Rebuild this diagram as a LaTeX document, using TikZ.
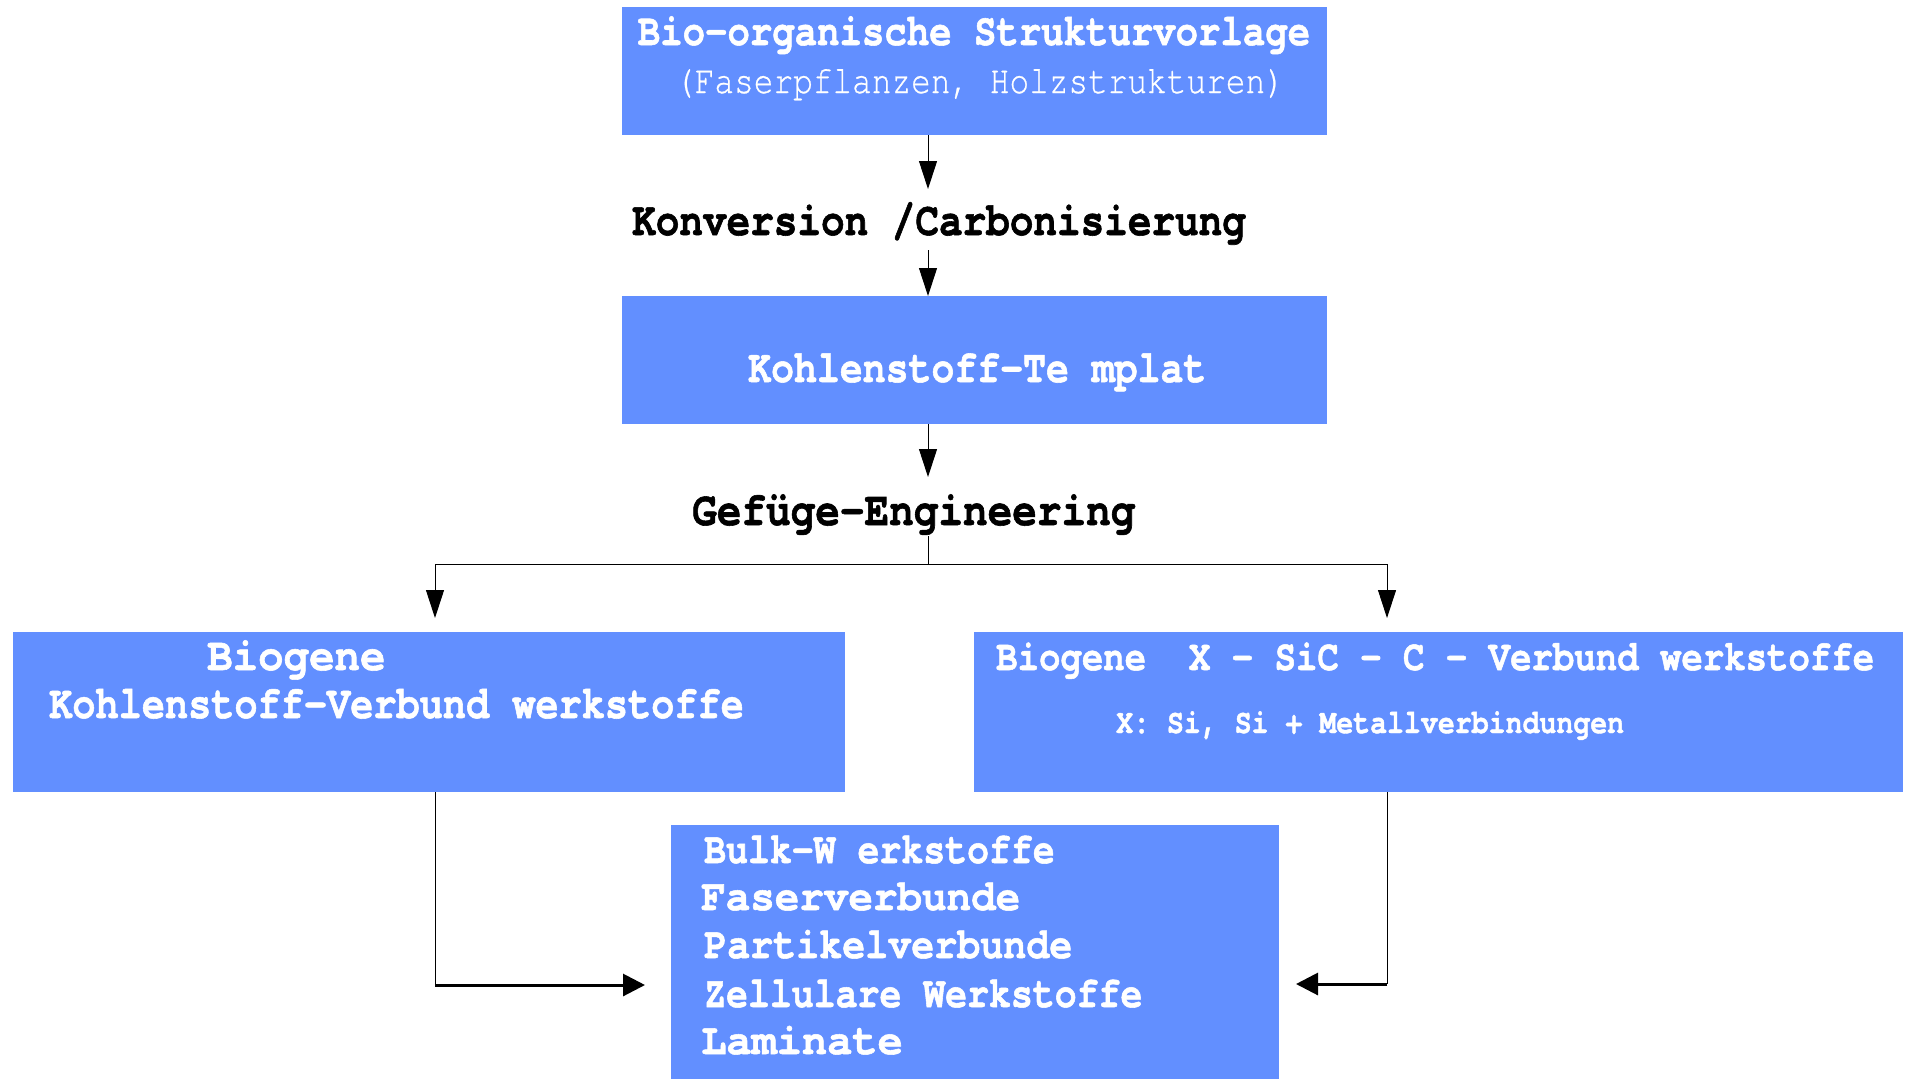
\documentclass[tikz,border=0pt]{standalone}
\usepackage{fontspec}
\newfontfamily\cour[FakeStretch=0.83, Ligatures={NoCommon,TeXOff}, BoldFeatures={FakeBold=1.2}]{TeX Gyre Cursor}
\newfontfamily\courmed[FakeStretch=0.83, Ligatures={NoCommon,TeXOff}, FakeBold=0.6]{TeX Gyre Cursor}
\usetikzlibrary{arrows.meta}
\definecolor{boxblue}{RGB}{98,143,255}
\newcommand\myfs[1]{\fontsize{#1pt}{#1pt}\selectfont}
\newcommand\hs[2]{\scalebox{#1}[1]{#2}}
\begin{document}
\begin{tikzpicture}[x=1pt,y=-1pt,
  box/.style={fill=boxblue, draw=none, inner sep=0pt, anchor=north west},
  wt/.style={text=white, inner sep=0pt, anchor=base west},
  lab/.style={text=black, inner sep=0pt, anchor=base west},
  arr/.style={-{Triangle[length=28pt,width=18pt]}, line width=1pt},
  barr/.style={-{Triangle[length=22pt,width=22pt]}, line width=3pt},
  conn/.style={line width=1pt}]
\useasboundingbox (0,0) rectangle (1910,1079);

% boxes
\node[box, minimum width=705pt, minimum height=128pt] (src) at (622,7) {};
\node[box, minimum width=705pt, minimum height=128pt] (tmpl) at (622,296) {};
\node[box, minimum width=832pt, minimum height=160pt] (cc) at (13,632) {};
\node[box, minimum width=929pt, minimum height=160pt] (xsic) at (974,632) {};
\node[box, minimum width=608pt, minimum height=254pt] (prod) at (671,825) {};

% texts
\node[wt, anchor=base, font=\cour\bfseries\myfs{45}] (src1) at (974,45) {Bio-organische Strukturvorlage};
\node[wt, anchor=base, font=\courmed\myfs{39.5}] (src2) at (980,93) {(Faserpflanzen, Holzstrukturen)};
\node[lab, font=\cour\bfseries\myfs{47.4}] (conv) at (632,235) {Konversion /Carbonisierung};
\node[wt, font=\cour\bfseries\myfs{46}] (tmplt) at (748,382) {Kohlenstoff-Te mplat};
\node[lab, font=\cour\bfseries\myfs{48}] (geng) at (692,525) {\hs{1.03}{Gefüge-Engineering}};
\node[wt, font=\cour\bfseries\myfs{46.5}] (cc1) at (207,670) {\hs{1.1}{Biogene}};
\node[wt, font=\cour\bfseries\myfs{46.5}] (cc2) at (49,718) {Kohlenstoff-Verbund werkstoffe};
\node[wt, font=\cour\bfseries\myfs{43}] (xs1) at (996,670) {Biogene~~X - SiC - C - Verbund werkstoffe};
\node[wt, font=\cour\bfseries\myfs{34}] (xs2) at (1116,733) {X: Si, Si + Metallverbindungen};
\node[wt, font=\cour\bfseries\myfs{44}] (p1) at (704,863) {Bulk-W erkstoffe};
\node[wt, font=\cour\bfseries\myfs{44}] (p2) at (701,910) {\hs{1.12}{Faserverbunde}};
\node[wt, font=\cour\bfseries\myfs{44}] (p3) at (704,958) {\hs{1.05}{Partikelverbunde}};
\node[wt, font=\cour\bfseries\myfs{44}] (p4) at (704,1007) {Zellulare Werkstoffe};
\node[wt, font=\cour\bfseries\myfs{44}] (p5) at (701,1054) {\hs{1.15}{Laminate}};

% coordinates
\coordinate (a1) at (928,189);
\coordinate (a2s) at (928,250);
\coordinate (a3) at (928,477);
\coordinate (g1) at (928,536);
\coordinate (split) at (928,564);
\coordinate (lsplit) at (435,564);
\coordinate (rsplit) at (1387,564);
\coordinate (lt) at (435,618);
\coordinate (rt) at (1387,618);
\coordinate (lb) at (435,985);
\coordinate (rb) at (1387,984);
\coordinate (lbt) at (645,985);
\coordinate (rbt) at (1296,984);

% connectors
\draw[arr] (src.south -| a1) -- (a1);
\draw[arr] (a2s) -- (tmpl.north -| a2s);
\draw[arr] (tmpl.south -| a3) -- (a3);
\draw[conn] (g1) -- (split);
\draw[conn] (lsplit) -- (rsplit);
\draw[arr] (lsplit) -- (lt);
\draw[arr] (rsplit) -- (rt);
\draw[conn] (cc.south -| lb) -- (lb);
\draw[barr] (lb) -- (lbt);
\draw[conn] (xsic.south -| rb) -- (rb);
\draw[barr] (rb) -- (rbt);
\end{tikzpicture}
\end{document}
